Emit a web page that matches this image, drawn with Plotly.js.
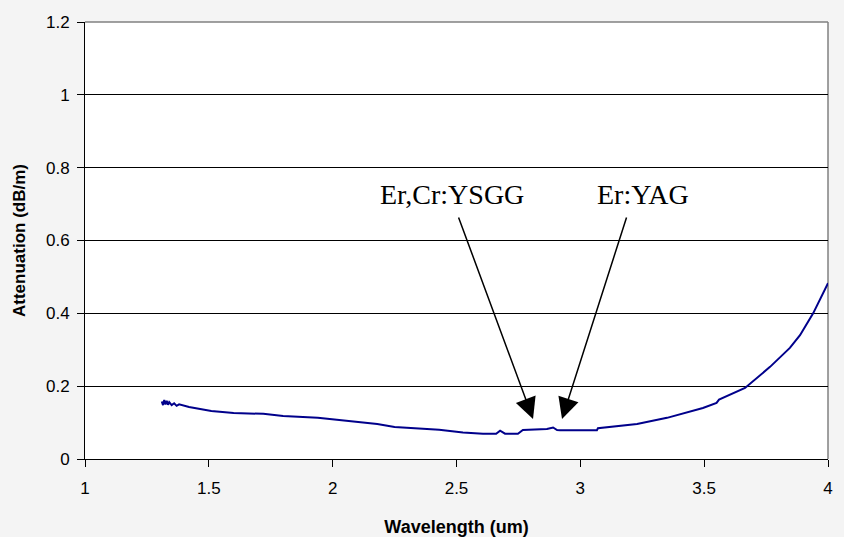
<!DOCTYPE html>
<html>
<head>
<meta charset="utf-8">
<script src="https://cdn.plot.ly/plotly-3.0.1.min.js"></script>
<style>html,body{margin:0;padding:0;background:#f4f4f4;}#chart{width:844px;height:537px;}</style>
</head>
<body>
<div id="chart"></div>
<script>
// Wavelength (um)
const wavelength = [1.31,1.315,1.32,1.325,1.33,1.335,1.34,1.35,1.36,1.37,1.38,1.42,1.51,1.60,1.72,1.80,1.94,2.02,2.10,2.18,2.25,2.38,2.43,2.526,2.607,2.66,2.676,2.696,2.748,2.768,2.865,2.89,2.906,2.918,3.067,3.071,3.168,3.229,3.35,3.495,3.55,3.56,3.665,3.766,3.846,3.887,3.94,3.968,4.0];
// Attenuation (dB/m)
const attenuation = [0.158,0.148,0.162,0.150,0.160,0.149,0.156,0.148,0.153,0.146,0.150,0.143,0.132,0.126,0.124,0.118,0.113,0.107,0.101,0.096,0.088,0.083,0.080,0.073,0.0695,0.0695,0.078,0.0695,0.0695,0.0796,0.0824,0.0865,0.0796,0.079,0.079,0.0843,0.0906,0.096,0.113,0.140,0.154,0.163,0.195,0.253,0.305,0.340,0.400,0.437,0.483];
const xTicks = [1,1.5,2,2.5,3,3.5,4];
const xTickText = ['1','1.5','2','2.5','3','3.5','4'];
const yTicks = [0,0.2,0.4,0.6,0.8,1,1.2];
const yTickText = ['0','0.2','0.4','0.6','0.8','1','1.2'];
// annotation labels
const labelText = ['Er,Cr:YSGG','Er:YAG'];
const labelX = [2.482, 3.253];
const labelY = [0.725, 0.725];
const arrowTipX = [2.809, 2.926];
const arrowTipY = [0.110, 0.110];
const arrowDX = [-75, 65];
const arrowDY = [-203, -203];

const annotations = [];
for (let i = 0; i < labelText.length; i++) {
  annotations.push({x: labelX[i], y: labelY[i], xref:'x', yref:'y', text: labelText[i], showarrow:false,
    font:{family:'"Liberation Serif","Times New Roman",serif', size:28, color:'#000'}});
  annotations.push({x: arrowTipX[i], y: arrowTipY[i], xref:'x', yref:'y', text:'', showarrow:true,
    ax: arrowDX[i], ay: arrowDY[i], arrowhead:2, arrowsize:2.8, arrowwidth:1.5, arrowcolor:'#000'});
}

const trace = {x: wavelength, y: attenuation, type:'scatter', mode:'lines',
  line:{color:'#00008b', width:2}, hoverinfo:'skip'};

const layout = {
  width:844, height:537,
  margin:{l:85, r:16, t:22, b:78},
  paper_bgcolor:'#f4f4f4', plot_bgcolor:'#ffffff',
  showlegend:false,
  font:{family:'Arial, "Liberation Sans", sans-serif', color:'#000'},
  xaxis:{range:[1,4], tickvals:xTicks, ticktext:xTickText, ticks:'outside', ticklen:7, tickcolor:'#000',
    showline:true, linecolor:'#000', linewidth:1, showgrid:false, zeroline:false,
    tickfont:{size:17, color:'#000'}, ticklabelstandoff:7,
    title:{text:'<b>Wavelength (um)</b>', font:{size:18, color:'#000'}, standoff:25}},
  yaxis:{range:[0,1.2], tickvals:yTicks, ticktext:yTickText, ticks:'outside', ticklen:7, tickcolor:'#000',
    showline:true, linecolor:'#000', linewidth:1, showgrid:true, gridcolor:'#000', gridwidth:1, zeroline:false,
    tickfont:{size:17, color:'#000'}, ticklabelstandoff:4,
    title:{text:'<b>Attenuation (dB/m)</b>', font:{size:17, color:'#000'}, standoff:16}},
  shapes:[
    {type:'line', xref:'paper', yref:'paper', x0:0, x1:1, y0:1, y1:1, line:{color:'#808080', width:1.5}, layer:'above'},
    {type:'line', xref:'paper', yref:'paper', x0:1, x1:1, y0:0, y1:1, line:{color:'#808080', width:1.5}, layer:'below'}
  ],
  annotations: annotations
};

Plotly.newPlot('chart', [trace], layout, {displayModeBar:false, staticPlot:true});
</script>
</body>
</html>
